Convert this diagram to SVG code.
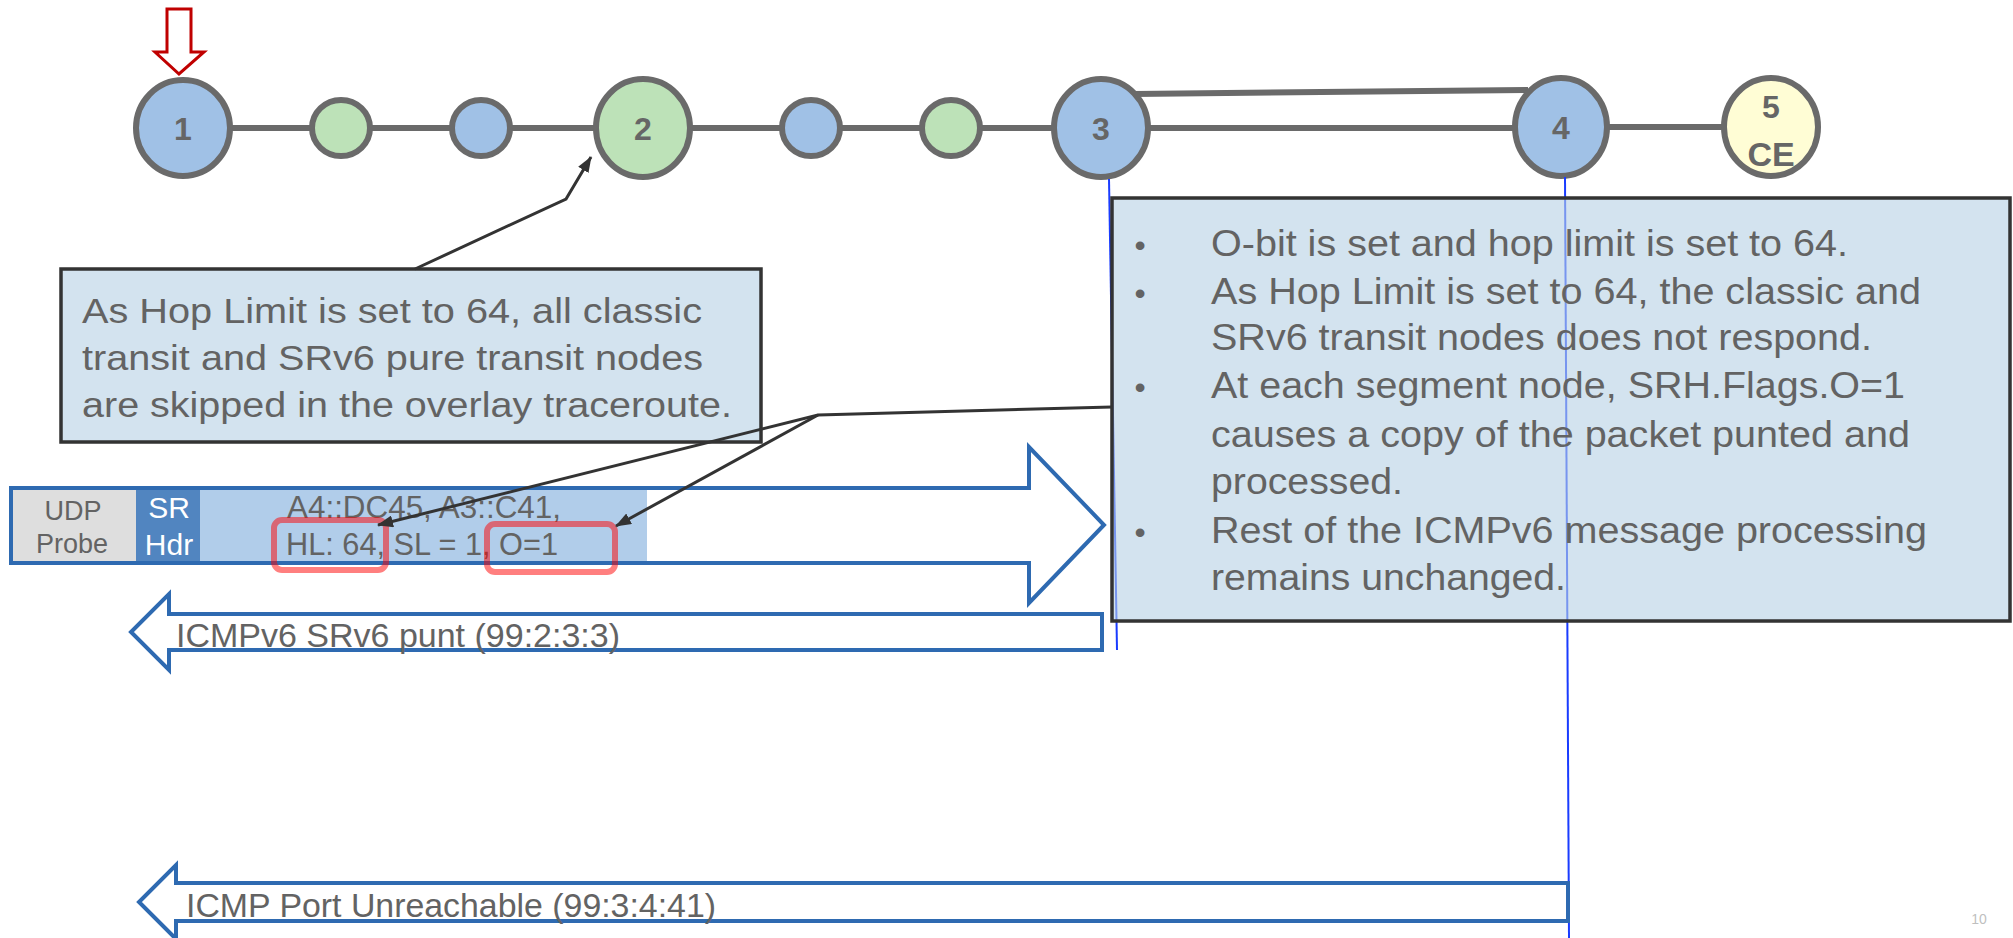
<svg xmlns="http://www.w3.org/2000/svg" width="2013" height="938" viewBox="0 0 2013 938">
<style>
.link{stroke:#6a6a6a;stroke-width:6;fill:none}
.nd{stroke:#6a6a6a;stroke-width:6}
.blue{fill:#a0c1e6}
.green{fill:#bde2b8}
.yellow{fill:#fffdd5}
.nlab{font-family:"Liberation Sans",Arial,sans-serif;font-weight:bold;font-size:32px;fill:#666;text-anchor:middle}
.txt{font-family:"Liberation Sans",Arial,sans-serif;fill:#636363}
.blk{fill:none;stroke:#2e6ab1;stroke-width:4;stroke-linejoin:miter}
.vline{stroke:#1a3cff;stroke-width:2;fill:none}
.conn{stroke:#333;stroke-width:3;fill:none}
.hl{fill:none;stroke:#ff0000;stroke-opacity:0.5;stroke-width:6}
</style>
<defs>
<marker id="ah" markerWidth="16" markerHeight="12" refX="15" refY="6" orient="auto" markerUnits="userSpaceOnUse">
<path d="M0,0 L16,6 L0,12 z" fill="#333"/>
</marker>
</defs>
<rect width="2013" height="938" fill="#fff"/>

<g id="links">
<line class="link" x1="183" y1="128" x2="1561" y2="128"/>
<line class="link" x1="1561" y1="127" x2="1772" y2="127"/>
<line class="link" x1="1134" y1="94" x2="1528" y2="90"/>
</g>

<g id="start-marker">
<path d="M167,9 L191,9 L191,52 L204,52 L179,74 L155,52 L167,52 Z" fill="#fff" stroke="#c00000" stroke-width="3"/>
</g>

<g id="node-1"><ellipse class="nd blue" cx="183" cy="128" rx="47" ry="48"/><text class="nlab" x="183" y="140">1</text></g>
<g id="node-t1"><ellipse class="nd green" cx="341" cy="128" rx="29" ry="28"/></g>
<g id="node-t2"><ellipse class="nd blue" cx="481" cy="128" rx="29" ry="28"/></g>
<g id="node-2"><ellipse class="nd green" cx="643" cy="128" rx="47" ry="49"/><text class="nlab" x="643" y="140">2</text></g>
<g id="node-t3"><ellipse class="nd blue" cx="811" cy="128" rx="29" ry="28"/></g>
<g id="node-t4"><ellipse class="nd green" cx="951" cy="128" rx="29" ry="28"/></g>
<g id="node-3"><ellipse class="nd blue" cx="1101" cy="128" rx="47" ry="49"/><text class="nlab" x="1101" y="140">3</text></g>
<g id="node-4"><ellipse class="nd blue" cx="1561" cy="127" rx="46" ry="49"/><text class="nlab" x="1561" y="139">4</text></g>
<g id="node-5"><ellipse class="nd yellow" cx="1771" cy="127" rx="47" ry="49"/><text class="nlab" x="1771" y="118">5</text><text class="nlab" x="1771" y="166" style="font-size:34px">CE</text></g>

<g id="timelines">
<line class="vline" x1="1109" y1="179" x2="1117" y2="650"/>
<line class="vline" x1="1565" y1="177" x2="1569" y2="938"/>
</g>

<g id="note-left">
<rect x="61" y="269" width="700" height="173" fill="#d3e3ef" stroke="#333" stroke-width="3.5"/>
<text class="txt" font-size="35" x="82" y="323" textLength="620" lengthAdjust="spacingAndGlyphs">As Hop Limit is set to 64, all classic</text>
<text class="txt" font-size="35" x="82" y="370" textLength="621" lengthAdjust="spacingAndGlyphs">transit and SRv6 pure transit nodes</text>
<text class="txt" font-size="35" x="82" y="417" textLength="650" lengthAdjust="spacingAndGlyphs">are skipped in the overlay traceroute.</text>
</g>

<g id="probe-packet">
<rect x="13" y="488" width="123" height="74" fill="#dedede"/>
<rect x="136" y="488" width="64" height="74" fill="#5185c0"/>
<rect x="200" y="488" width="447" height="74" fill="#b1cdea"/>
<path class="blk" d="M11,488 L1029,488 L1029,447 L1104,525 L1029,603 L1029,563 L11,563 Z"/>
<text class="txt" font-size="27" x="73" y="520" text-anchor="middle">UDP</text>
<text class="txt" font-size="27" x="72" y="553" text-anchor="middle">Probe</text>
<text font-family="Liberation Sans, Arial, sans-serif" font-size="30" fill="#fff" x="169" y="518" text-anchor="middle">SR</text>
<text font-family="Liberation Sans, Arial, sans-serif" font-size="30" fill="#fff" x="169" y="555" text-anchor="middle">Hdr</text>
<text class="txt" font-size="32" x="287" y="518" textLength="274" lengthAdjust="spacingAndGlyphs">A4::DC45, A3::C41,</text>
<text class="txt" font-size="32" x="286" y="555" textLength="272" lengthAdjust="spacingAndGlyphs">HL: 64, SL = 1, O=1</text>
<rect class="hl" x="274" y="520" width="112" height="50" rx="8"/>
<rect class="hl" x="487" y="524" width="128" height="48" rx="8"/>
</g>

<g id="reply-punt">
<path class="blk" d="M1102,614 L169,614 L169,594 L131,632 L169,670 L169,650 L1102,650 Z"/>
<text class="txt" font-size="33" x="176" y="647" textLength="444" lengthAdjust="spacingAndGlyphs">ICMPv6 SRv6 punt (99:2:3:3)</text>
</g>

<g id="reply-unreachable">
<path class="blk" d="M1568,883 L176,883 L176,865 L139,902 L176,939 L176,921 L1568,921 Z"/>
<text class="txt" font-size="34" x="186" y="917" textLength="530" lengthAdjust="spacingAndGlyphs">ICMP Port Unreachable (99:3:4:41)</text>
</g>

<g id="note-right">
<rect x="1112" y="198" width="898" height="423" fill="#b5d0e4" fill-opacity="0.6" stroke="#333" stroke-width="3.5"/>
<g class="txt" font-size="37">
<text x="1140" y="256" text-anchor="middle" font-size="32">•</text>
<text x="1140" y="304" text-anchor="middle" font-size="32">•</text>
<text x="1140" y="398" text-anchor="middle" font-size="32">•</text>
<text x="1140" y="543" text-anchor="middle" font-size="32">•</text>
<text x="1211" y="256" textLength="637" lengthAdjust="spacingAndGlyphs">O-bit is set and hop limit is set to 64.</text>
<text x="1211" y="304" textLength="710" lengthAdjust="spacingAndGlyphs">As Hop Limit is set to 64, the classic and</text>
<text x="1211" y="350" textLength="661" lengthAdjust="spacingAndGlyphs">SRv6 transit nodes does not respond.</text>
<text x="1211" y="398" textLength="694" lengthAdjust="spacingAndGlyphs">At each segment node, SRH.Flags.O=1</text>
<text x="1211" y="447" textLength="699" lengthAdjust="spacingAndGlyphs">causes a copy of the packet punted and</text>
<text x="1211" y="494" textLength="192" lengthAdjust="spacingAndGlyphs">processed.</text>
<text x="1211" y="543" textLength="716" lengthAdjust="spacingAndGlyphs">Rest of the ICMPv6 message processing</text>
<text x="1211" y="590" textLength="355" lengthAdjust="spacingAndGlyphs">remains unchanged.</text>
</g>
</g>

<g id="connectors">
<polyline class="conn" points="415,269 566,199 591,157" marker-end="url(#ah)"/>
<polyline class="conn" points="1112,407 818,415 378,525" marker-end="url(#ah)"/>
<line class="conn" x1="818" y1="415" x2="616" y2="526" marker-end="url(#ah)"/>
</g>

<text x="1979" y="924" font-family="Liberation Sans, Arial, sans-serif" font-size="14" fill="#bfbfbf" text-anchor="middle">10</text>
</svg>
